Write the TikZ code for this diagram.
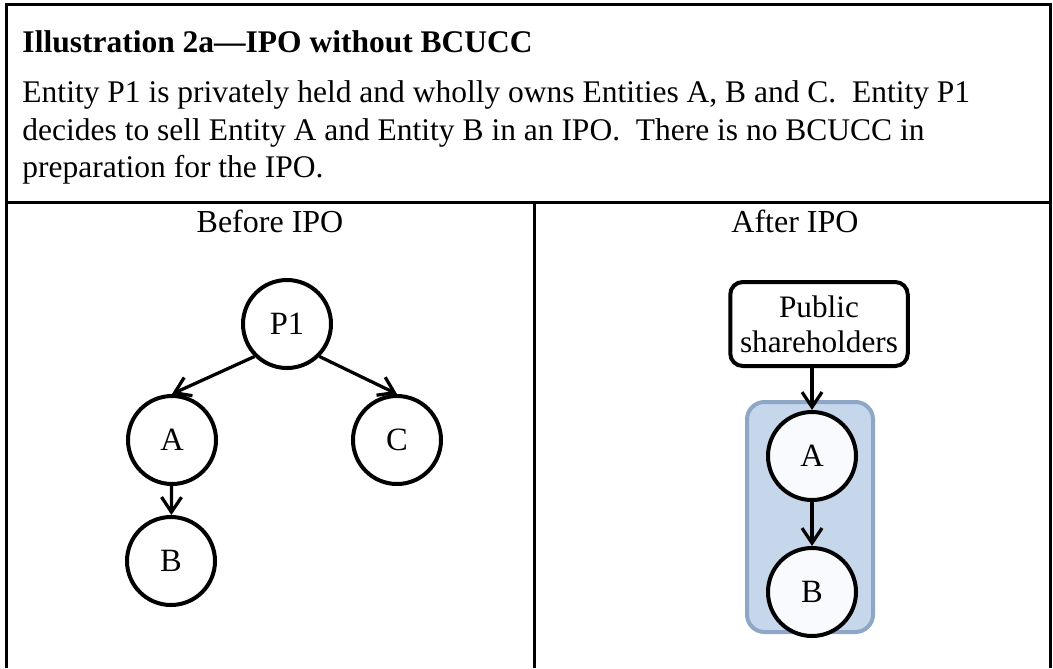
\documentclass[tikz,border=0pt]{standalone}
\usepackage{fontspec}
\setmainfont{Liberation Serif}
\usetikzlibrary{arrows.meta}
\definecolor{grpfill}{HTML}{C7D7EB}
\definecolor{grpline}{HTML}{8EA7C6}
\definecolor{entfill}{HTML}{F9FAFD}
\tikzset{
  ent/.style={circle, draw, line width=1.6pt, minimum size=35.2pt, inner sep=0pt,
    font=\fontsize{13}{15}\selectfont},
  own/.style={-{Straight Barb[length=6pt,width=8pt,line width=1.3pt]}, line width=1.3pt},
  body/.style={anchor=base west, inner sep=0pt, font=\fontsize{12.6}{14}\selectfont},
  head/.style={anchor=base, inner sep=0pt, font=\fontsize{12.8}{14}\selectfont},
  pubbox/.style={draw, line width=1.6pt, rounded corners=5pt, align=center,
    minimum width=71pt, minimum height=33.6pt, inner sep=0pt,
    font=\fontsize{12.5}{14}\selectfont},
  group/.style={draw=grpline, fill=grpfill, line width=1.6pt, rounded corners=7pt}
}
\begin{document}
\begin{tikzpicture}[x=0.4pt,y=-0.4pt]
\useasboundingbox (0,0) rectangle (1053,668);
% frame
\draw[line width=1.2pt] (6,668) -- (6,4) -- (1050,4) -- (1050,668);
\draw[line width=1.2pt] (6,202) -- (1050,202);
\draw[line width=1.2pt] (534,202) -- (534,668);

\node[body, font=\bfseries\fontsize{12.6}{14}\selectfont] (title) at (22,52) {Illustration 2a---IPO without BCUCC};
\node[body] (line1) at (22,102) {Entity P1 is privately held and wholly owns Entities A, B and C.\ \ Entity P1};
\node[body] (line2) at (22,140) {decides to sell Entity A and Entity B in an IPO.\ \ There is no BCUCC in};
\node[body] (line3) at (22,177) {preparation for the IPO.};

\node[head] (before) at (270,232) {Before IPO};
\node[head] (after) at (795,232) {After IPO};

% before
\node[ent] (p1) at (287,324) {P1};
\node[ent] (a) at (172,440) {A};
\node[ent] (c) at (397,440) {C};
\node[ent] (b) at (171,561) {B};
\draw[own] (p1.-135) -- (a.north);
\draw[own] (p1.-45) -- (c.north);
\draw[own] (a) -- (b);

% after
\draw[group] (747,402) rectangle (873,632);
\node[pubbox] (pub) at (819,324) {Public\\shareholders};
\node[ent, fill=entfill] (a2) at (812,456) {A};
\node[ent, fill=entfill] (b2) at (812,592) {B};
\draw[own] (a2 |- pub.south) -- (a2);
\draw[own] (a2) -- (b2);
\end{tikzpicture}
\end{document}
